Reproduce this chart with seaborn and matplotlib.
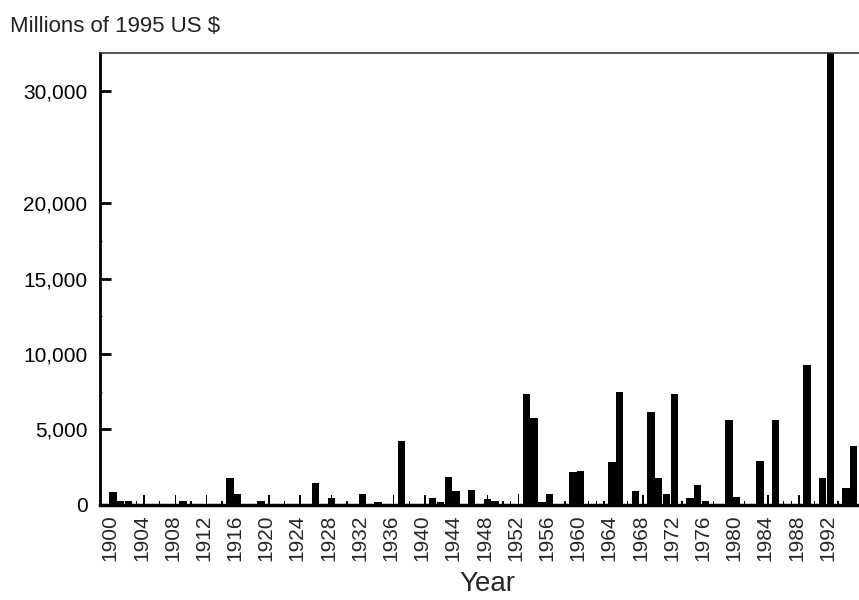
import numpy as np
import pandas as pd
import matplotlib
matplotlib.use("Agg")
import matplotlib.pyplot as plt
import seaborn as sns

# ---- data ----
years = list(range(1900, 1996))
damage = (
    [870, 250, 250, 0, 0, 0, 0, 0, 0, 265] +          # 1900-1909
    [0, 0, 0, 0, 0, 1790, 710, 0, 0, 265] +           # 1910-1919
    [0, 0, 0, 0, 0, 0, 1420, 0, 425, 0] +             # 1920-1929
    [0, 0, 710, 0, 200, 0, 0, 4230, 0, 0] +           # 1930-1939
    [0, 425, 200, 1820, 910, 0, 975, 0, 360, 250] +   # 1940-1949
    [0, 0, 0, 7350, 5740, 200, 710, 0, 0, 2150] +     # 1950-1959
    [2260, 0, 0, 0, 2860, 7500, 0, 930, 0, 6140] +    # 1960-1969
    [1800, 710, 7350, 0, 425, 1310, 250, 0, 0, 5620] +  # 1970-1979
    [490, 0, 0, 2920, 0, 5620, 0, 0, 0, 9280] +       # 1980-1989
    [0, 1800, 34000, 0, 1090, 3920]                   # 1990-1995
)
minor_events = (
    [0, 0, 0, 250, 640, 0, 250, 0, 640, 0] +
    [250, 0, 640, 0, 250, 0, 0, 0, 0, 0] +
    [645, 0, 265, 0, 645, 0, 0, 0, 645, 0] +
    [265, 0, 0, 0, 0, 0, 645, 0, 265, 0] +
    [645, 0, 0, 0, 0, 0, 0, 0, 645, 0] +
    [265, 265, 690, 0, 0, 0, 0, 0, 265, 0] +
    [0, 265, 265, 265, 0, 0, 265, 0, 640, 0] +
    [0, 0, 0, 265, 0, 0, 0, 265, 0, 0] +
    [0, 265, 0, 0, 640, 0, 265, 265, 640, 0] +
    [265, 0, 0, 265, 0, 0]
)
yticks_major = [0, 5000, 10000, 15000, 20000, 30000]
yticks_minor = [7500, 12500, 17500]
tick_years = years[::4]

df = pd.DataFrame({"year": years, "damage": damage, "minor": minor_events})

sns.set_style("ticks")
plt.rcParams["font.family"] = ["Liberation Sans", "DejaVu Sans"]

fig = plt.figure(figsize=(8.59, 6.0), dpi=100)
ax = fig.add_axes([100 / 859, 1 - 504.7 / 600, 759 / 859, (504.7 - 53.3) / 600])

sns.barplot(data=df, x="year", y="damage", order=years, color="black",
            saturation=1, width=0.95, errorbar=None, linewidth=0, ax=ax)
sns.barplot(data=df, x="year", y="minor", order=years, color="black",
            saturation=1, width=0.18, errorbar=None, linewidth=0, ax=ax)

# piecewise-linear y axis (compressed above 20,000)
K = 0.7452
def fwd(v):
    v = np.asarray(v, dtype=float)
    return np.where(v <= 20000, v, 20000 + (v - 20000) * K)
def inv(u):
    u = np.asarray(u, dtype=float)
    return np.where(u <= 20000, u, 20000 + (u - 20000) / K)
ax.set_yscale("function", functions=(fwd, inv))
ax.set_ylim(0, 33350)
ax.set_xlim(-1.66, 95.68)

ax.set_yticks(yticks_major)
ax.set_yticklabels([f"{v:,}" for v in yticks_major])
ax.set_yticks(yticks_minor, minor=True)
ax.tick_params(axis="y", which="major", direction="in", length=8, width=2,
               labelsize=15, pad=9, colors="black")
ax.tick_params(axis="y", which="minor", direction="in", length=1.5, width=1)

idx = [years.index(y) for y in tick_years]
ax.set_xticks([i - 0.35 for i in idx])
ax.set_xticklabels([str(y) for y in tick_years], rotation=90)
ax.tick_params(axis="x", which="both", length=0, labelsize=15, pad=7)

ax.set_ylabel("")
ax.set_xlabel("Year", fontsize=20)
ax.xaxis.set_label_coords((487.5 - 100) / 759, (504.7 - 571) / 451.4)
ax.xaxis.label.set_va("top")

ax.spines["left"].set_linewidth(2)
ax.spines["left"].set_color("black")
ax.spines["bottom"].set_linewidth(2.5)
ax.spines["bottom"].set_color("black")
ax.spines["top"].set_visible(True)
ax.spines["top"].set_linewidth(1.2)
ax.spines["top"].set_color("#333333")
ax.spines["right"].set_visible(False)

fig.text(10 / 859, 1 - 27 / 600, "Millions of 1995 US $", fontsize=16,
         va="center", ha="left", color="#222222")

fig.savefig("out.png", dpi=100)
